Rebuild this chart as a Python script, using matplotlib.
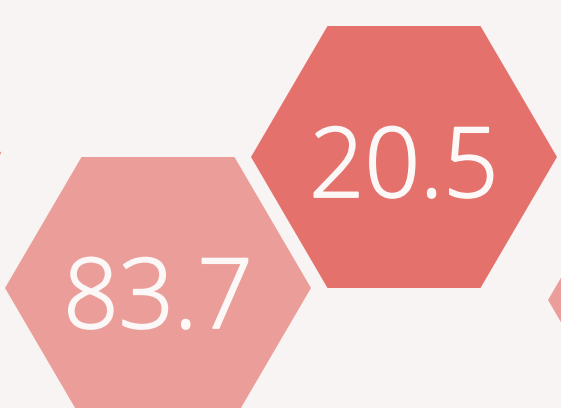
import numpy as np
import matplotlib.pyplot as plt
import matplotlib.patheffects as pe
from matplotlib.patches import Polygon

# Hex cells (pixel layout of the view), values and colours
centers_x = [158, 404, -152, 701]
centers_y = [288, 157, 153, 300]
values = [83.7, 20.5, None, None]
colors = ['#eb9e99', '#e4716b', '#e4716b', '#eb9e99']

half_w = 153
half_h = 131
bg = '#f8f4f3'
txt_col = '#fbf8f7'

fig = plt.figure(figsize=(5.61, 4.08), dpi=100)
fig.patch.set_facecolor(bg)
ax = fig.add_axes([0, 0, 1, 1])
ax.set_facecolor(bg)
ax.set_xlim(0, 561)
ax.set_ylim(408, 0)
ax.axis('off')

ang = np.deg2rad(np.arange(0, 360, 60))
for cx, cy, val, col in zip(centers_x, centers_y, values, colors):
    pts = np.column_stack([cx + half_w * np.cos(ang),
                           cy + half_h * np.sin(ang) / np.sin(np.pi / 3)])
    ax.add_patch(Polygon(pts, closed=True, facecolor=col, edgecolor='none'))
    if val is not None:
        ax.text(cx, cy + 40, f'{val}', ha='center', va='baseline',
                fontsize=70, fontweight='light', color=txt_col,
                family=['Open Sans', 'DejaVu Sans'],
                path_effects=[pe.withStroke(linewidth=1.3, foreground=txt_col)])

fig.savefig('out.png', dpi=100, facecolor=bg)
